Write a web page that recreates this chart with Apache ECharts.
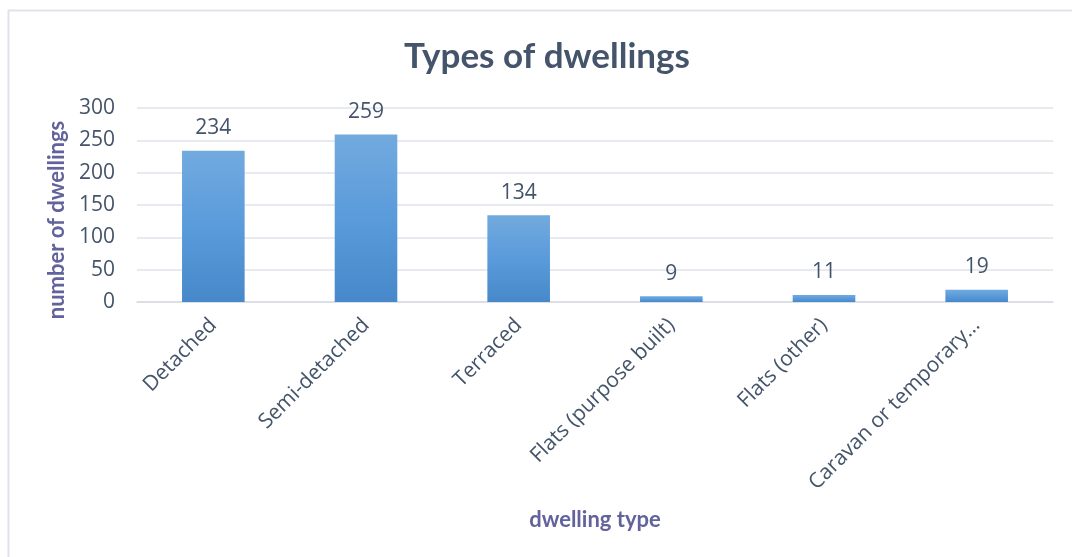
<!DOCTYPE html>
<html>
<head>
<meta charset="utf-8">
<script src="https://cdn.jsdelivr.net/npm/echarts@6/dist/echarts.min.js"></script>
<style>
  html, body { margin: 0; padding: 0; background: #ffffff; }
  #chart { width: 1072px; height: 557px; }
</style>
</head>
<body>
<div id="chart"></div>
<script>
// Dwelling counts by type
const categories = [
  'Detached',
  'Semi-detached',
  'Terraced',
  'Flats (purpose built)',
  'Flats (other)',
  'Caravan or temporary…'
];
const dwellingCounts = [234, 259, 134, 9, 11, 19];
const yTicks = { min: 0, max: 300, interval: 50 };

const chart = echarts.init(document.getElementById('chart'), null, { renderer: 'canvas' });

const textColor = '#44546a';
const axisNameColor = '#62629c';
const tickFont = '"Open Sans", "Noto Sans", sans-serif';

chart.setOption({
  animation: false,
  backgroundColor: '#ffffff',
  graphic: [{
    type: 'rect',
    shape: { x: 8.5, y: 10.5, width: 1080, height: 560 },
    style: { fill: 'none', stroke: '#dfe3ea', lineWidth: 2 },
    silent: true,
    z: -1
  }],
  title: {
    text: 'Types of dwellings',
    left: 399,
    top: 34,
    textStyle: {
      fontFamily: 'Lato',
      fontWeight: 'bold',
      fontSize: 35,
      color: textColor
    }
  },
  grid: { left: 137, right: 19, top: 108, bottom: 255, containLabel: false },
  xAxis: {
    type: 'category',
    data: categories,
    name: 'dwelling type',
    nameLocation: 'middle',
    nameGap: 207,
    nameTextStyle: {
      fontFamily: 'Lato',
      fontWeight: 'bold',
      fontSize: 22,
      color: axisNameColor
    },
    axisLine: { lineStyle: { color: '#d9dde4', width: 1.5 } },
    axisTick: { show: false },
    axisLabel: {
      rotate: 45,
      margin: 20,
      interval: 0,
      fontFamily: tickFont,
      fontSize: 21,
      color: textColor
    }
  },
  yAxis: {
    type: 'value',
    min: yTicks.min,
    max: yTicks.max,
    interval: yTicks.interval,
    name: 'number of dwellings',
    nameLocation: 'middle',
    nameGap: 68,
    nameRotate: 90,
    nameTextStyle: {
      fontFamily: 'Lato',
      fontWeight: 'bold',
      fontSize: 22,
      color: axisNameColor,
      padding: [0, 30, 0, 0]
    },
    axisLine: { show: false },
    axisTick: { show: false },
    splitLine: { lineStyle: { color: '#dfe3ea', width: 1.5 } },
    axisLabel: {
      margin: 22,
      fontFamily: tickFont,
      fontSize: 21,
      color: textColor
    }
  },
  series: [{
    type: 'bar',
    data: dwellingCounts,
    barWidth: '41%',
    itemStyle: {
      color: new echarts.graphic.LinearGradient(0, 0, 0, 1, [
        { offset: 0, color: '#72aade' },
        { offset: 0.5, color: '#5a9bdb' },
        { offset: 1, color: '#4688c9' }
      ])
    },
    label: {
      show: true,
      position: 'top',
      distance: 12,
      fontFamily: tickFont,
      fontSize: 21,
      color: textColor
    }
  }]
});
</script>
</body>
</html>
